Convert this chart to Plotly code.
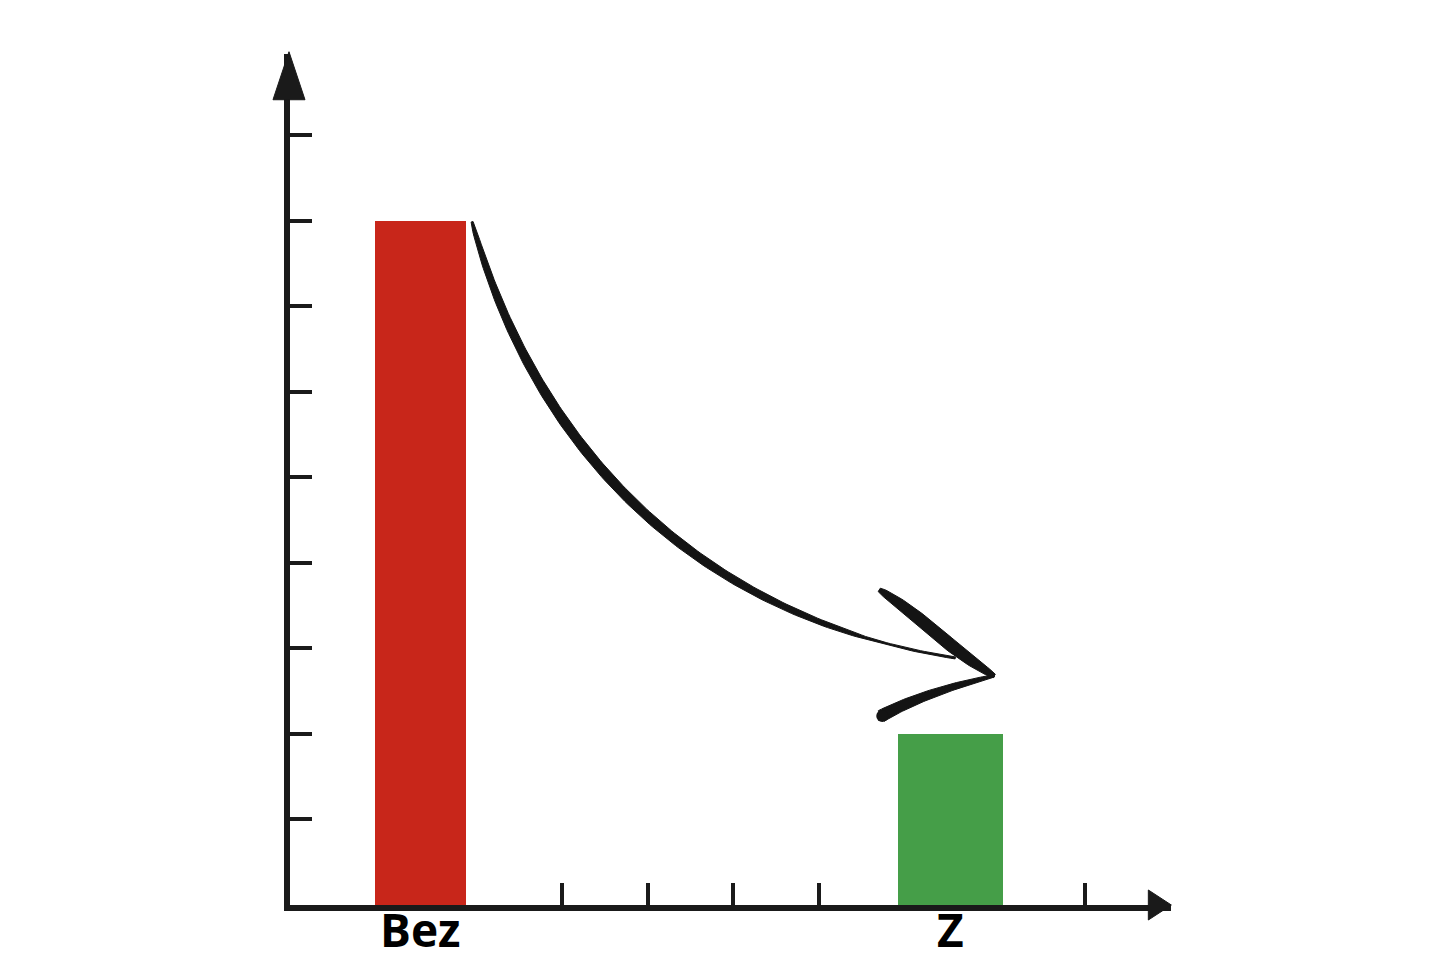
import numpy as np
import plotly.graph_objects as go

# ---- data ----
categories = ["Bez", "Z"]
values = [8.0, 2.0]
bar_colors = ["#C8261A", "#459E48"]
y_ticks = [1, 2, 3, 4, 5, 6, 7, 8, 9]
x_ticks = [3.18, 4.18, 5.18, 6.18, 9.3]

# ---- layout constants ----
OFF = 8  # default page body margin
W, H = 1440 - OFF, 960 - OFF
X0_PX, Y0_PX, UNIT = 290, 905, 85.5
X_MAX, Y_MAX = 10.3, 9.95
bar_pos = [1.526, 7.72]
bar_width = [1.064, 1.22]
INK = "#1a1a1a"
PW, PH = X_MAX * UNIT, Y_MAX * UNIT

def d(px, py):
    return (px - X0_PX) / UNIT, (Y0_PX - py) / UNIT

def p(px, py):
    return (px - X0_PX) / PW, (Y0_PX - py) / PH

def taper_poly(pts, widths):
    pts = np.asarray(pts, float)
    w = np.asarray(widths, float)
    tang = np.gradient(pts, axis=0)
    tang /= np.linalg.norm(tang, axis=1)[:, None]
    nrm = np.stack([-tang[:, 1], tang[:, 0]], axis=1)
    left = pts + nrm * (w[:, None] / 2)
    right = pts - nrm * (w[:, None] / 2)
    return np.vstack([left, right[::-1], left[:1]])

def bezier(p0, p1, p2, p3, n=120):
    t = np.linspace(0, 1, n)[:, None]
    p0, p1, p2, p3 = map(np.array, (p0, p1, p2, p3))
    return (1 - t) ** 3 * p0 + 3 * (1 - t) ** 2 * t * p1 + 3 * (1 - t) * t ** 2 * p2 + t ** 3 * p3

fig = go.Figure()

for c, v, col, pos, wd in zip(categories, values, bar_colors, bar_pos, bar_width):
    fig.add_trace(go.Bar(x=[pos], y=[v], width=[wd], marker=dict(color=col, line=dict(width=0)),
                         name=c, showlegend=False, hoverinfo="skip"))

# curved brush arrow (pixel geometry converted to data coords)
strokes = []
curve = bezier((472, 222), (540, 470), (720, 622), (955, 658), 160)
t = np.linspace(0, 1, len(curve))
strokes.append((curve, 2 + 9 * np.sin(np.pi * np.clip(t * 1.15, 0, 1)) ** 0.5 * (1 - 0.35 * t)))
head1 = bezier((879, 590), (918, 614), (950, 650), (994, 676), 60)
t1 = np.linspace(0, 1, len(head1))
strokes.append((head1, 4 + 9 * np.sin(np.pi * t1) ** 0.6))
head2 = bezier((994, 676), (950, 686), (910, 700), (881, 716), 60)
t2 = np.linspace(0, 1, len(head2))
strokes.append((head2, 2 + 10 * t2 ** 0.7))

for pts, widths in strokes:
    poly = taper_poly(pts, widths)
    xs, ys = d(poly[:, 0], poly[:, 1])
    fig.add_trace(go.Scatter(x=xs, y=ys, mode="lines", fill="toself", fillcolor="#141414",
                             line=dict(color="#141414", width=1), showlegend=False,
                             hoverinfo="skip", cliponaxis=False))

ex, ey = d(np.array([882]), np.array([716]))
fig.add_trace(go.Scatter(x=ex, y=ey, mode="markers", marker=dict(size=12, color="#141414"),
                         showlegend=False, hoverinfo="skip", cliponaxis=False))

# axis arrowheads (paper coords so they are not clipped)
def tri(pts_px):
    pts = [p(px, py) for px, py in pts_px]
    return "M " + " L ".join(f"{x},{y}" for x, y in pts) + " Z"

fig.add_shape(type="path", path=tri([(289, 52), (305, 100), (273, 100)]), xref="paper", yref="paper",
              fillcolor=INK, line=dict(color=INK, width=1), layer="above")
fig.add_shape(type="path", path=tri([(1171, 905), (1148, 920), (1148, 890)]), xref="paper", yref="paper",
              fillcolor=INK, line=dict(color=INK, width=1), layer="above")

# category labels
for c, pos in zip(categories, bar_pos):
    fig.add_annotation(x=pos, y=0, xref="x", yref="y", text=f"<b>{c}</b>", showarrow=False,
                       yanchor="middle", yshift=-24,
                       font=dict(family="Open Sans", size=46, color="#000000"))

fig.update_layout(
    width=W, height=H,
    margin=dict(l=X0_PX - OFF, r=1440 - (X0_PX + PW), t=Y0_PX - PH - OFF, b=960 - Y0_PX, pad=0),
    paper_bgcolor="white", plot_bgcolor="white",
    showlegend=False, bargap=0,
    xaxis=dict(range=[0, X_MAX], showgrid=False, zeroline=False, showline=True, linewidth=6,
               linecolor=INK, ticks="inside", ticklen=22, tickwidth=4, tickcolor=INK,
               tickmode="array", tickvals=x_ticks, showticklabels=False, fixedrange=True),
    yaxis=dict(range=[0, Y_MAX], showgrid=False, zeroline=False, showline=True, linewidth=6,
               linecolor=INK, ticks="inside", ticklen=22, tickwidth=4, tickcolor=INK,
               tickmode="array", tickvals=y_ticks, showticklabels=False, fixedrange=True),
)

fig.write_html("out.html")
